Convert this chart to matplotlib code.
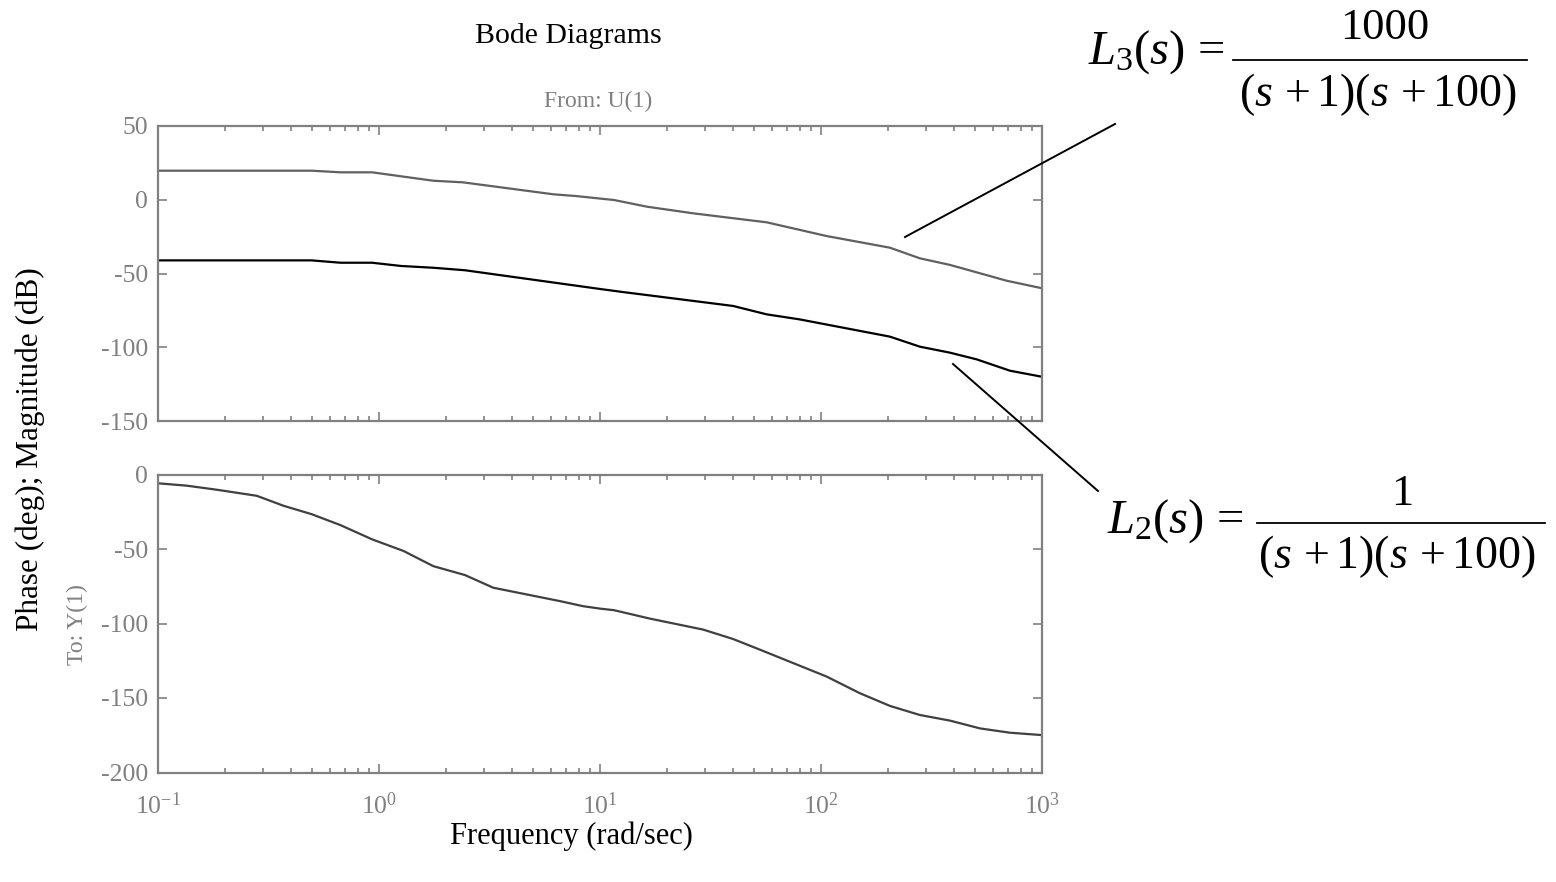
import matplotlib
matplotlib.use('Agg')
import matplotlib.pyplot as plt
from matplotlib.lines import Line2D
from matplotlib.ticker import FixedLocator, LogLocator, NullFormatter

plt.rcParams['font.family'] = ['Liberation Serif', 'DejaVu Serif']
plt.rcParams['mathtext.fontset'] = 'custom'
plt.rcParams['mathtext.rm'] = 'Liberation Serif'
plt.rcParams['mathtext.it'] = 'Liberation Serif:italic'
plt.rcParams['axes.unicode_minus'] = False

# magnitude of L3 = 1000/((s+1)(s+100))
w_l3 = [0.1, 0.495, 0.67, 0.93, 1.76, 2.4, 6.15, 7.8, 11.6, 16.3, 26.4,
        56.8, 74.8, 106, 205, 280, 384, 692, 1000]
mag_l3 = [19.7, 19.7, 18.6, 18.6, 12.9, 11.8, 3.7, 2.5, -0.2, -4.7, -9.2,
          -15.3, -19.4, -24.6, -32.5, -39.7, -44.2, -54.9, -60.0]

# magnitude of L2 = 1/((s+1)(s+100))
w_l2 = [0.1, 0.495, 0.67, 0.93, 1.26, 1.76, 2.45, 10, 12.3, 40, 56.8, 80,
        205, 280, 384, 506, 716, 1000]
mag_l2 = [-41.1, -41.1, -42.7, -42.7, -44.9, -46.1, -47.8, -60.5, -62.3,
          -72.0, -77.7, -81.1, -92.8, -99.6, -103.7, -108.2, -115.9, -120.0]

# phase (same for both)
w_ph = [0.1, 0.135, 0.184, 0.28, 0.37, 0.495, 0.67, 0.93, 1.29, 1.76, 2.45,
        3.29, 6.6, 8.4, 10, 11.6, 16.8, 29.3, 40, 53, 106, 150, 205, 280,
        384, 524, 716, 1000]
phase = [-5.9, -7.5, -10.2, -14.3, -21.0, -26.6, -34.0, -43.5, -51.3, -61.5,
         -67.5, -76.0, -85.0, -88.4, -90.0, -91.1, -96.7, -104.1, -110.4,
         -117.6, -135.6, -146.8, -155.3, -161.4, -165.2, -170.4, -173.3,
         -174.9]

x_ticks = [0.1, 1, 10, 100, 1000]
x_labels = ['$10^{-1}$', '$10^{0}$', '$10^{1}$', '$10^{2}$', '$10^{3}$']
mag_ticks = [50, 0, -50, -100, -150]
phase_ticks = [0, -50, -100, -150, -200]

W, H = 1556, 882
GRAY = '#808080'


def px(x, y):
    return x / W, 1 - y / H


def style_axes(ax, yticks):
    ax.set_xscale('log')
    ax.set_xlim(0.1, 1000)
    ax.xaxis.set_major_locator(FixedLocator(x_ticks))
    ax.xaxis.set_minor_locator(LogLocator(base=10, subs=range(2, 10)))
    ax.xaxis.set_minor_formatter(NullFormatter())
    ax.set_yticks(yticks)
    ax.set_yticklabels([str(t) for t in yticks])
    ax.set_ylim(min(yticks), max(yticks))
    for sp in ax.spines.values():
        sp.set_color(GRAY)
        sp.set_linewidth(1.6)
    ax.tick_params(which='both', direction='in', top=True, right=True,
                   color=GRAY, labelcolor=GRAY, labelsize=18.5, width=1.2)
    ax.tick_params(which='major', length=6.5)
    ax.tick_params(which='minor', length=3.5)
    ax.tick_params(axis='y', pad=7)
    ax.tick_params(axis='x', pad=14)


fig = plt.figure(figsize=(W / 100, H / 100), dpi=100)
ax_mag = fig.add_axes([158 / W, 1 - 421 / H, 884 / W, 295 / H])
ax_ph = fig.add_axes([158 / W, 1 - 772.5 / H, 884 / W, 298 / H])

ax_mag.plot(w_l3, mag_l3, color='#606060', lw=1.6)
ax_mag.plot(w_l2, mag_l2, color='#000000', lw=1.6)
style_axes(ax_mag, mag_ticks)
ax_mag.xaxis.set_major_formatter(NullFormatter())

ax_ph.plot(w_ph, phase, color='#404040', lw=1.6)
style_axes(ax_ph, phase_ticks)
ax_ph.set_xticklabels(x_labels)

fig.text(*px(568, 36), 'Bode Diagrams', fontsize=21.5, ha='center',
         va='center')
fig.text(*px(598, 101), 'From: U(1)', fontsize=17, color=GRAY,
         ha='center', va='center')
fig.text(*px(571, 836), 'Frequency (rad/sec)', fontsize=22,
         ha='center', va='center')
fig.text(*px(30, 449), 'Phase (deg); Magnitude (dB)', fontsize=22.5,
         rotation=90, ha='center', va='center')
fig.text(*px(77, 625), 'To: Y(1)', fontsize=17, color=GRAY, rotation=90,
         ha='center', va='center')

# transfer function labels
fig.text(*px(1088, 52), r'$L_3(s)\,=$', fontsize=35, ha='left', va='center')
fig.text(*px(1385, 28), '1000', fontsize=32, ha='center', va='center')
fig.text(*px(1378, 95), r'$(s\,+1)(s\,+100)$', fontsize=33, ha='center',
         va='center')
fig.text(*px(1107, 521), r'$L_2(s)\,=$', fontsize=35, ha='left', va='center')
fig.text(*px(1402, 494), '1', fontsize=32, ha='center', va='center')
fig.text(*px(1397, 557), r'$(s\,+1)(s\,+100)$', fontsize=33, ha='center',
         va='center')

for (x0, y0), (x1, y1), lw in [((1233, 60), (1527, 60), 1.3),
                               ((1257, 523), (1545, 523), 1.3),
                               ((1115, 124), (905, 237), 1.4),
                               ((953, 364), (1098, 491), 1.4)]:
    a, b = px(x0, y0)
    c, d = px(x1, y1)
    fig.add_artist(Line2D([a, c], [b, d], color='black', lw=lw))

fig.savefig('out.png', dpi=100)
